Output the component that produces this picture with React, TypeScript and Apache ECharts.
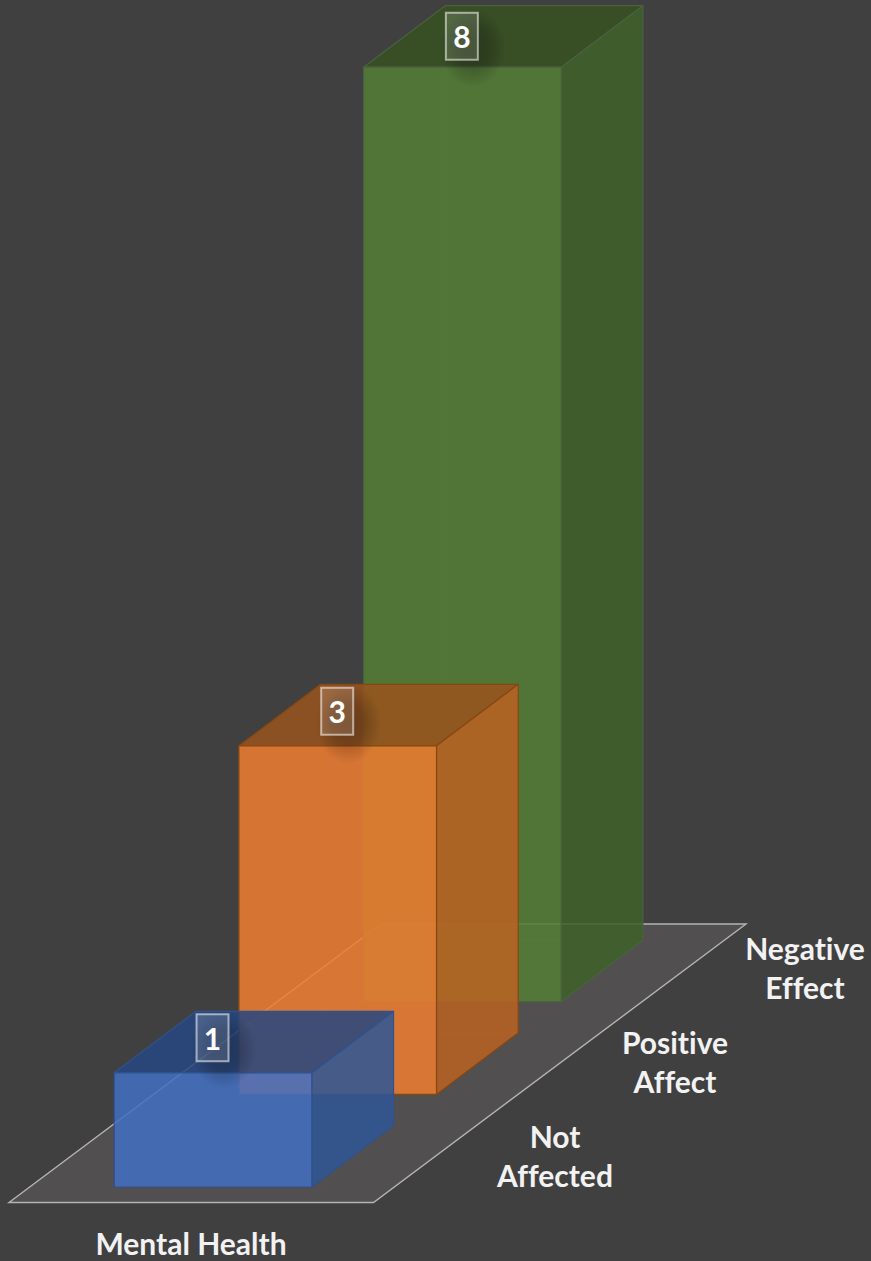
import React, { useEffect, useRef } from "react";
import * as echarts from "echarts";

// Survey counts per effect on mental health
const categories = ["Not Affected", "Positive Affect", "Negative Effect"];
const counts = [1, 3, 8];
const categoryLabels = ["Not\nAffected", "Positive\nAffect", "Negative\nEffect"];
const axisTitle = "Mental Health";

const WIDTH = 871;
const HEIGHT = 1261;
const BG = "#404040";
const FONT = "Lato";

// Pseudo-3D projection of each box
const BOX_W = 197.6;
const DEPTH_X = 81.7;
const DEPTH_Y = 61.5;
const ROW_SHIFT_Y = 92.6; // each row sits further back on the floor
const BASE_LIFT = 3;
const LABEL_LIFT = [35, 34.5, 31];

type Skin = { front: string; side: string; top: string; edge: string; inner: string };
const skins: Skin[] = [
  { front: "rgba(66,112,194,0.86)", side: "rgba(46,86,150,0.86)", top: "rgba(39,71,129,0.86)", edge: "#2f528f", inner: "rgba(47,82,143,0.3)" },
  { front: "rgba(237,125,49,0.86)", side: "rgba(186,98,34,0.86)", top: "rgba(153,84,29,0.86)", edge: "#874711", inner: "rgba(190,100,30,0.15)" },
  { front: "rgba(84,126,53,0.86)", side: "rgba(63,97,41,0.86)", top: "rgba(55,80,33,0.86)", edge: "#4a6140", inner: "rgba(100,140,70,0.3)" },
];

const makeBox = (row: number) => (_params: any, api: any) => {
  const value = api.value(1) as number;
  const [cx, y0] = api.coord([api.value(0), 0]);
  const [, yTop] = api.coord([api.value(0), value]);
  const shift = ROW_SHIFT_Y * row;
  const left = cx - BOX_W / 2;
  const right = cx + BOX_W / 2;
  const bottom = y0 - BASE_LIFT - shift;
  const top = yTop - shift;
  const skin = skins[row];
  const face = (points: number[][], fill: string) => ({
    type: "polygon",
    shape: { points },
    style: { fill, stroke: skin.edge, lineWidth: 1.2, lineJoin: "round" },
  });
  const edge = (x1: number, y1: number, x2: number, y2: number) => ({
    type: "line",
    shape: { x1, y1, x2, y2 },
    style: { stroke: skin.inner, lineWidth: 1 },
  });
  const labelX = cx - 0.5;
  const labelY = top - LABEL_LIFT[row];
  return {
    type: "group",
    children: [
      // hidden edges, seen through the translucent faces
      edge(left + DEPTH_X, top - DEPTH_Y, left + DEPTH_X, bottom - DEPTH_Y),
      edge(left + DEPTH_X, bottom - DEPTH_Y, right + DEPTH_X, bottom - DEPTH_Y),
      edge(left + DEPTH_X, bottom - DEPTH_Y, left, bottom),
      face([[left, top], [right, top], [right + DEPTH_X, top - DEPTH_Y], [left + DEPTH_X, top - DEPTH_Y]], skin.top),
      face([[right, top], [right + DEPTH_X, top - DEPTH_Y], [right + DEPTH_X, bottom - DEPTH_Y], [right, bottom]], skin.side),
      face([[left, top], [right, top], [right, bottom], [left, bottom]], skin.front),
      // soft drop shadow behind the value tag
      {
        type: "rect",
        shape: { x: labelX - 22, y: labelY - 28, width: 66, height: 80 },
        style: {
          fill: {
            type: "radial",
            x: 0.5,
            y: 0.5,
            r: 0.5,
            colorStops: [
              { offset: 0, color: "rgba(0,0,0,0.26)" },
              { offset: 0.5, color: "rgba(0,0,0,0.2)" },
              { offset: 1, color: "rgba(0,0,0,0)" },
            ],
          },
        },
      },
      {
        type: "rect",
        shape: { x: labelX - 16, y: labelY - 23.5, width: 32, height: 47 },
        style: { fill: "rgba(255,255,255,0.14)", stroke: "rgba(255,255,255,0.55)", lineWidth: 2 },
      },
      {
        type: "text",
        style: {
          x: labelX,
          y: labelY,
          text: String(value),
          fill: "#ffffff",
          font: `bold 30px ${FONT}`,
          align: "center",
          verticalAlign: "middle",
        },
      },
    ],
  };
};

const axisText = (text: string, x: number, y: number) => ({
  type: "text",
  z: 20,
  style: {
    x,
    y,
    text,
    fill: "#f2f2f2",
    font: `bold 30px ${FONT}`,
    lineHeight: 39,
    align: "center",
    verticalAlign: "middle",
  },
});

export default function App() {
  const ref = useRef<HTMLDivElement>(null);

  useEffect(() => {
    document.body.style.margin = "0";
    document.body.style.background = BG;
    const chart = echarts.init(ref.current!, undefined, { renderer: "svg" });
    chart.setOption({
      animation: false,
      backgroundColor: BG,
      grid: { left: 150.7, width: 374, top: 18, height: 1172 },
      xAxis: { type: "category", data: categories, show: false },
      yAxis: { type: "value", min: 0, max: 10, show: false },
      graphic: [
        {
          type: "polygon",
          z: 0,
          shape: { points: [[9, 1202.5], [373.5, 1202.5], [746, 924], [381, 924]] },
          style: { fill: "#514f50", stroke: "#b4b4b4", lineWidth: 1.4 },
        },
        axisText(axisTitle, 191, 1242.5),
        axisText(categoryLabels[0], 555, 1155.5),
        axisText(categoryLabels[1], 675, 1061.5),
        axisText(categoryLabels[2], 805, 967.5),
      ],
      series: categories.map((name, row) => ({
        type: "custom",
        name,
        coordinateSystem: "cartesian2d",
        z: 10 - row,
        silent: true,
        clip: false,
        data: [[row, counts[row]]],
        renderItem: makeBox(row),
      })),
    });
    return () => chart.dispose();
  }, []);

  return (
    <>
      {/* zrender writes a font shorthand on each text, so ligatures need !important */}
      <style>{"svg text { font-variant-ligatures: none !important; }"}</style>
      <div ref={ref} style={{ width: WIDTH, height: HEIGHT }} />
    </>
  );
}
